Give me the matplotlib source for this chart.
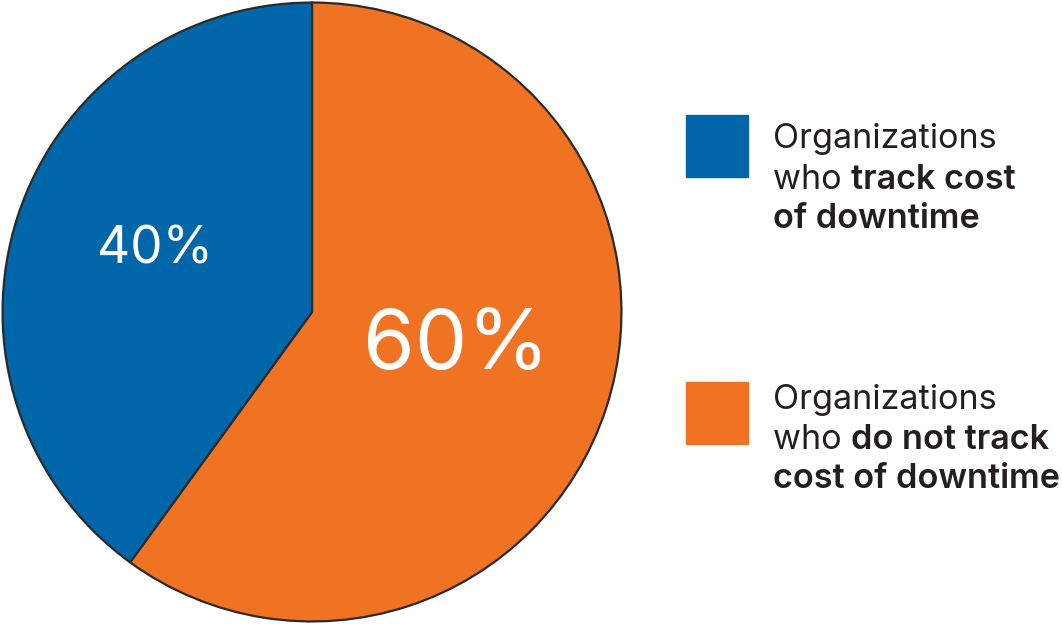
import matplotlib
matplotlib.use("Agg")
import matplotlib.pyplot as plt

shares = [60, 40]
labels = ["60%", "40%"]
colors = ["#F07324", "#0066AA"]
legend_lines = [
    [("Organizations", "normal")],
    [("who ", "normal"), ("track cost", "semibold")],
    [("of downtime", "semibold")],
]
legend_lines2 = [
    [("Organizations", "normal")],
    [("who ", "normal"), ("do not track", "semibold")],
    [("cost of downtime", "semibold")],
]

W, H = 1062, 624
fig = plt.figure(figsize=(W / 100, H / 100), dpi=100)
plt.rcParams['font.family'] = ['Inter', 'DejaVu Sans']

ax = fig.add_axes([1 / W, 1 / H, 622 / W, 622 / H])
wedges, _ = ax.pie(shares, colors=colors, startangle=90, counterclock=False,
                   radius=1.0,
                   wedgeprops=dict(edgecolor="#2a2a2a", linewidth=1.6))
ax.set_xlim(-1.005, 1.005)
ax.set_ylim(-1.005, 1.005)
ax.set_aspect("equal")
ax.axis("off")

def px(x, y):
    return x / W, 1 - y / H

fig.text(*px(456, 369), labels[0], color="white", fontsize=60, ha="center",
         va="baseline", transform=fig.transFigure)
fig.text(*px(155, 263), labels[1], color="white", fontsize=37, ha="center",
         va="baseline", transform=fig.transFigure)

# legend squares
for (y0, c) in [(115, colors[1]), (382, colors[0])]:
    fig.patches.append(plt.Rectangle(px(686, y0 + 62), 62 / W, 62 / H,
                                     transform=fig.transFigure, color=c))

renderer = fig.canvas.get_renderer()
txtcolor = "#231F20"
fs = 24.6

def draw_block(lines, baselines):
    for line, yb in zip(lines, baselines):
        x = 773
        for s, w in line:
            t = fig.text(*px(x, yb), s, fontsize=fs, fontweight=w, color=txtcolor,
                         va="baseline", ha="left")
            bb = t.get_window_extent(renderer=renderer)
            x += bb.width

draw_block(legend_lines, [148, 189, 228])
draw_block(legend_lines2, [409, 449, 488])

fig.savefig("out.png", dpi=100, facecolor="white")
